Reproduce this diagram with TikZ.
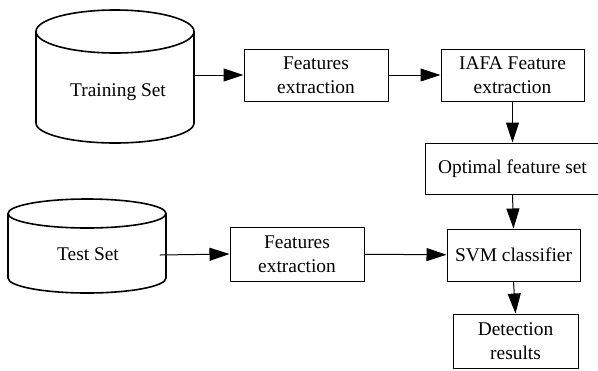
\documentclass[tikz,border=0pt]{standalone}
\usepackage{fontspec}
\setmainfont{Liberation Serif}
\usetikzlibrary{arrows.meta}
\begin{document}
\begin{tikzpicture}[line cap=round,line join=round,>={Triangle[length=10pt,width=6.5pt]},x=0.5pt,y=-0.5pt,
    box/.style={draw,line width=0.5pt,align=center,inner sep=0pt,font=\rmfamily\fontsize{9.7}{12}\selectfont},
    dbtext/.style={inner sep=1pt,font=\rmfamily\fontsize{9.7}{12}\selectfont},
    flow/.style={->,line width=0.5pt}]
      \clip (0,0) rectangle (598,370);
      % databases
      \draw[line width=0.8pt] (115,31.5) ellipse[x radius=79,y radius=21.5];
      \draw[line width=0.8pt] (36,31.5) -- (36,123) arc[start angle=180,end angle=0,x radius=79,y radius=20] -- (194,31.5);
      \draw[line width=0.8pt] (87,213.5) ellipse[x radius=79,y radius=14.5];
      \draw[line width=0.8pt] (8,213.5) -- (8,278) arc[start angle=180,end angle=0,x radius=79,y radius=15] -- (166,213.5);
      \node[dbtext] (train) at (118,92) {Training Set};
      \node[dbtext] (test) at (88,254) {Test Set};
      \coordinate (trainout) at (194,75);
      \coordinate (testout) at (160,255);
      % processing boxes
      \node[box,minimum width=72pt,minimum height=26pt] (featA) at (316,75) {Features\\extraction};
      \node[box,minimum width=71.5pt,minimum height=26pt] (iafa) at (512.5,75) {IAFA Feature\\extraction};
      \node[box,minimum width=87.5pt,minimum height=25.5pt] (optset) at (512.5,168.5) {Optimal feature set};
      \node[box,minimum width=67pt,minimum height=27pt] (featB) at (297,254) {Features\\extraction};
      \node[box,minimum width=66.5pt,minimum height=26pt] (svm) at (513.5,255) {SVM classifier};
      \node[box,minimum width=62.5pt,minimum height=27pt] (detect) at (515.5,341) {Detection\\results};
      % connectors
      \draw[flow] (trainout) -- (featA.west);
      \draw[flow] (featA) -- (iafa);
      \draw[flow] (iafa) -- (optset);
      \draw[flow] (optset.south) -- (svm.north);
      \draw[flow] (testout) -- (featB.west);
      \draw[flow] (featB) -- (svm);
      \draw[flow] (svm.south) -- (detect.north);
\end{tikzpicture}
\end{document}
